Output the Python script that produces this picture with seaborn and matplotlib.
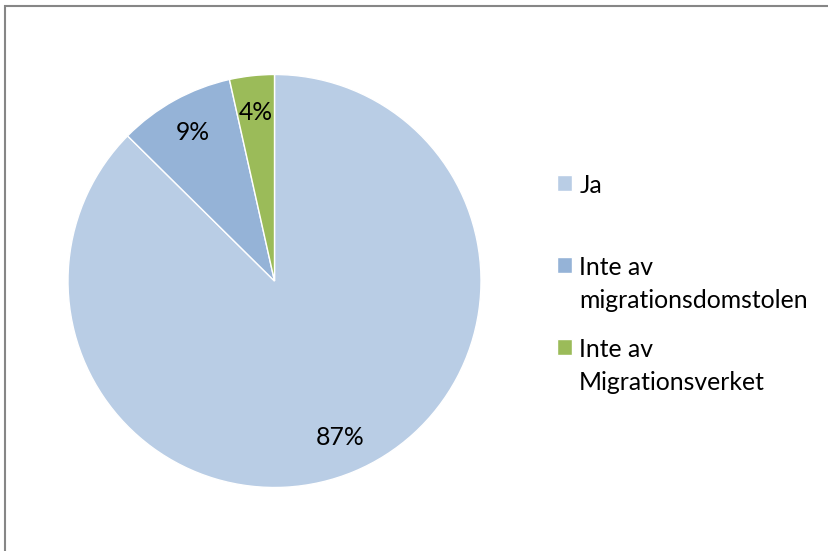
import matplotlib
matplotlib.use("Agg")
import matplotlib.pyplot as plt
import seaborn as sns
from matplotlib.patches import Rectangle

categories = ["Ja", "Inte av\nmigrationsdomstolen", "Inte av\nMigrationsverket"]
values = [87.4, 9.1, 3.5]
colors = ["#B9CDE5", "#95B3D7", "#9BBB59"]

sns.set_theme(style="white")
plt.rcParams["font.family"] = ["Lato", "DejaVu Sans"]

W, H = 829, 551
FS = 17.8
fig = plt.figure(figsize=(W / 100, H / 100), dpi=100)
fig.patch.set_facecolor("white")

ax = fig.add_axes([68 / W, 63 / H, 413 / W, 414 / H])
wedges, texts, autotexts = ax.pie(
    values, colors=colors, startangle=90, counterclock=False,
    autopct="%.0f%%", pctdistance=0.82,
    wedgeprops=dict(edgecolor="white", linewidth=1),
    textprops=dict(fontsize=FS, color="black"),
)
ax.set_xlim(-1, 1)
ax.set_ylim(-1, 1)
ax.set_aspect("equal")
ax.axis("off")

# Legend: every label as two lines so entries are spaced evenly
labels = ["Ja\n"] + categories[1:]
leg = fig.legend(
    wedges, labels, loc="upper left",
    bbox_to_anchor=(557 / W, 1 - 174 / H),
    frameon=False, fontsize=FS, borderpad=0, borderaxespad=0,
    handlelength=0.6, handleheight=0.6, handletextpad=0.3,
    labelspacing=1.08,
)
for t in leg.get_texts():
    t.set_color("black")
    t.set_linespacing(1.5)
fig.canvas.draw()
# align each handle's top with the cap top of the label's first line
fpx = FS * 100 / 72
for t, p in zip(leg.get_texts(), leg.get_patches()):
    tb = t.get_window_extent()
    pb = p.get_window_extent()
    desired_top = tb.y1 - 0.04 * fpx
    delta = desired_top - pb.y1
    p.set_y(p.get_y() + delta * 72 / 100)

# chart frame (left and top edges visible)
fig.add_artist(Rectangle((5.5 / W, -0.2), 2, 1.2 - 5.5 / H,
                         transform=fig.transFigure, fill=False,
                         edgecolor="#868686", linewidth=1.5))

fig.savefig("out.png", dpi=100, facecolor="white")
